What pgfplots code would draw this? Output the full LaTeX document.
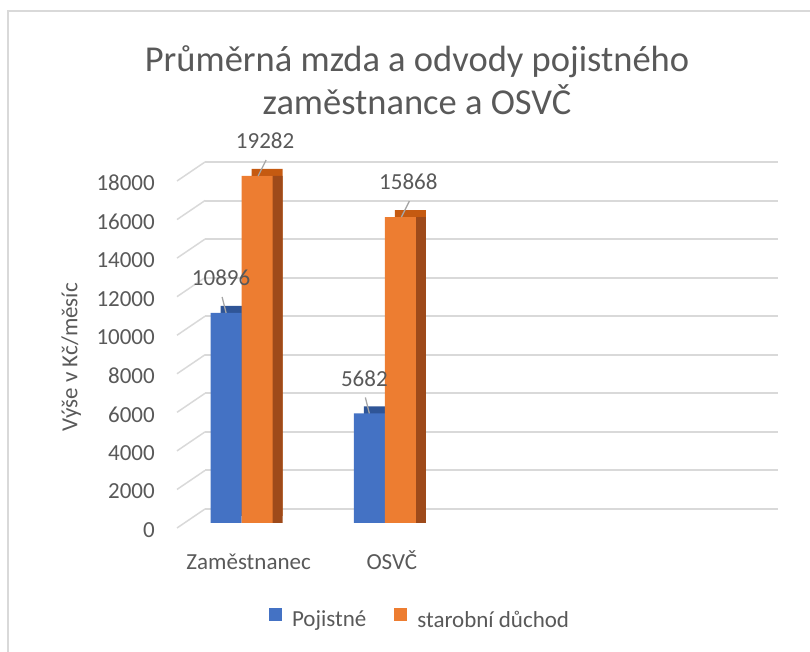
\documentclass[border=0pt]{standalone}
\usepackage{fontspec}
\setmainfont{Carlito}
\usepackage{pgfplots}
\usepackage{pgfplotstable}
\pgfplotsset{compat=1.18}

\definecolor{pblue}{HTML}{4472C4}
\definecolor{pbluetop}{HTML}{2F5597}
\definecolor{porange}{HTML}{ED7D31}
\definecolor{porangetop}{HTML}{C55A11}
\definecolor{porangeside}{HTML}{9E4A1A}
\definecolor{txt}{HTML}{595959}
\definecolor{gridc}{HTML}{D9D9D9}
\definecolor{leader}{HTML}{A6A6A6}

% x: 0 = Zamestnanec, 1 = OSVC
\pgfplotstableread{
x poj duch
0 10896 19282
1 5682 15868
}\mzdy

\begin{document}
\begin{tikzpicture}[x=1pt,y=1pt]
\useasboundingbox (0,0) rectangle (810,652);
\draw[gridc, line width=1.2pt] (8,-1) -- (8,641) -- (811,641);

\node[text=txt, align=center, font=\fontsize{36.5}{43}\selectfont] at (417,572)
  {Průměrná mzda a odvody pojistného\\zaměstnance a OSVČ};

\begin{axis}[
  at={(172pt,129pt)}, anchor=south west,
  width=573pt, height=347pt, scale only axis,
  clip=false,
  xmin=-0.5, xmax=3.5, ymin=0, ymax=18000,
  ybar, bar width=31pt,
  axis line style={draw=none},
  major tick length=0pt,
  xtick={0,1}, xticklabels={Zaměstnanec, OSVČ},
  ytick={0,2000,...,18000},
  scaled y ticks=false,
  /pgf/number format/.cd, 1000 sep={}, assume math mode=true, /pgfplots/.cd,
  ticklabel style={font=\fontsize{23}{27}\selectfont, text=txt, inner sep=0pt},
  yticklabel style={anchor=east, xshift=-17pt, yshift=-7pt},
  xticklabel style={anchor=base, xshift=5pt, yshift=-47pt},
  ymajorgrids,
  major grid style={draw=gridc, line width=2pt, xshift=33pt, yshift=14pt},
  ylabel={Výše v Kč/měsíc},
  ylabel style={at={(axis description cs:-0.176,0.478)}, anchor=center,
    font=\fontsize{23}{27}\selectfont, text=txt},
  y filter/.expression={min(y,18000)},
  point meta=explicit,
  legend style={at={(axis description cs:0.433,-0.277)}, anchor=center,
    draw=none, fill=none, font=\fontsize{23}{27}\selectfont, text=txt,
    legend columns=2,
    /tikz/every odd column/.append style={column sep=8pt},
    /tikz/every even column/.append style={column sep=26pt}},
  legend image code/.code={\fill[#1] (0pt,-1pt) rectangle (13pt,12pt);},
  nodes near coords={\pgfmathprintnumber{\pgfplotspointmeta}},
  every node near coord/.append style={anchor=south, inner sep=0pt, yshift=27pt,
    font=\fontsize{23}{27}\selectfont, text=txt},
]
\pgfplotsinvokeforeach{0,2000,4000,6000,8000,10000,12000,14000,16000,18000}{
  \draw[gridc, line width=1.5pt] ([xshift=5pt,yshift=-5pt]axis cs:-0.5,#1)
    -- ([xshift=33pt,yshift=14pt]axis cs:-0.5,#1);
}

% Pojistne: top face, then front
\addplot[fill=pbluetop, draw=none, bar shift=-17.5pt, xshift=10pt, yshift=7pt,
  forget plot, nodes near coords={}]
  table[x=x, y=poj, meta=poj]{\mzdy};
\addplot[fill=pblue, draw=none, bar shift=-17.5pt,
  every node near coord/.append style={xshift=-5pt,
    append after command={([xshift=1pt,yshift=-11pt]\tikzlastnode.south)
      edge[draw=leader, fill=none, line width=1.3pt] ++(4pt,-16pt)}}]
  table[x=x, y=poj, meta=poj]{\mzdy};
\addlegendentry{Pojistné}

% starobni duchod: top face, side face, then front
\addplot[fill=porangetop, draw=none, bar shift=13.5pt, xshift=10pt, yshift=7pt,
  forget plot, nodes near coords={}]
  table[x=x, y=duch, meta=duch]{\mzdy};
\addplot[fill=porangeside, draw=none, bar shift=13.5pt, xshift=10pt,
  forget plot, nodes near coords={}]
  table[x=x, y=duch, meta=duch]{\mzdy};
\addplot[fill=porange, draw=none, bar shift=13.5pt,
  every node near coord/.append style={xshift=8pt,
    append after command={([xshift=1pt,yshift=-11pt]\tikzlastnode.south)
      edge[draw=leader, fill=none, line width=1.3pt] ++(-8pt,-16pt)}}]
  table[x=x, y=duch, meta=duch]{\mzdy};
\addlegendentry{starobní důchod}
\end{axis}
\end{tikzpicture}
\end{document}
